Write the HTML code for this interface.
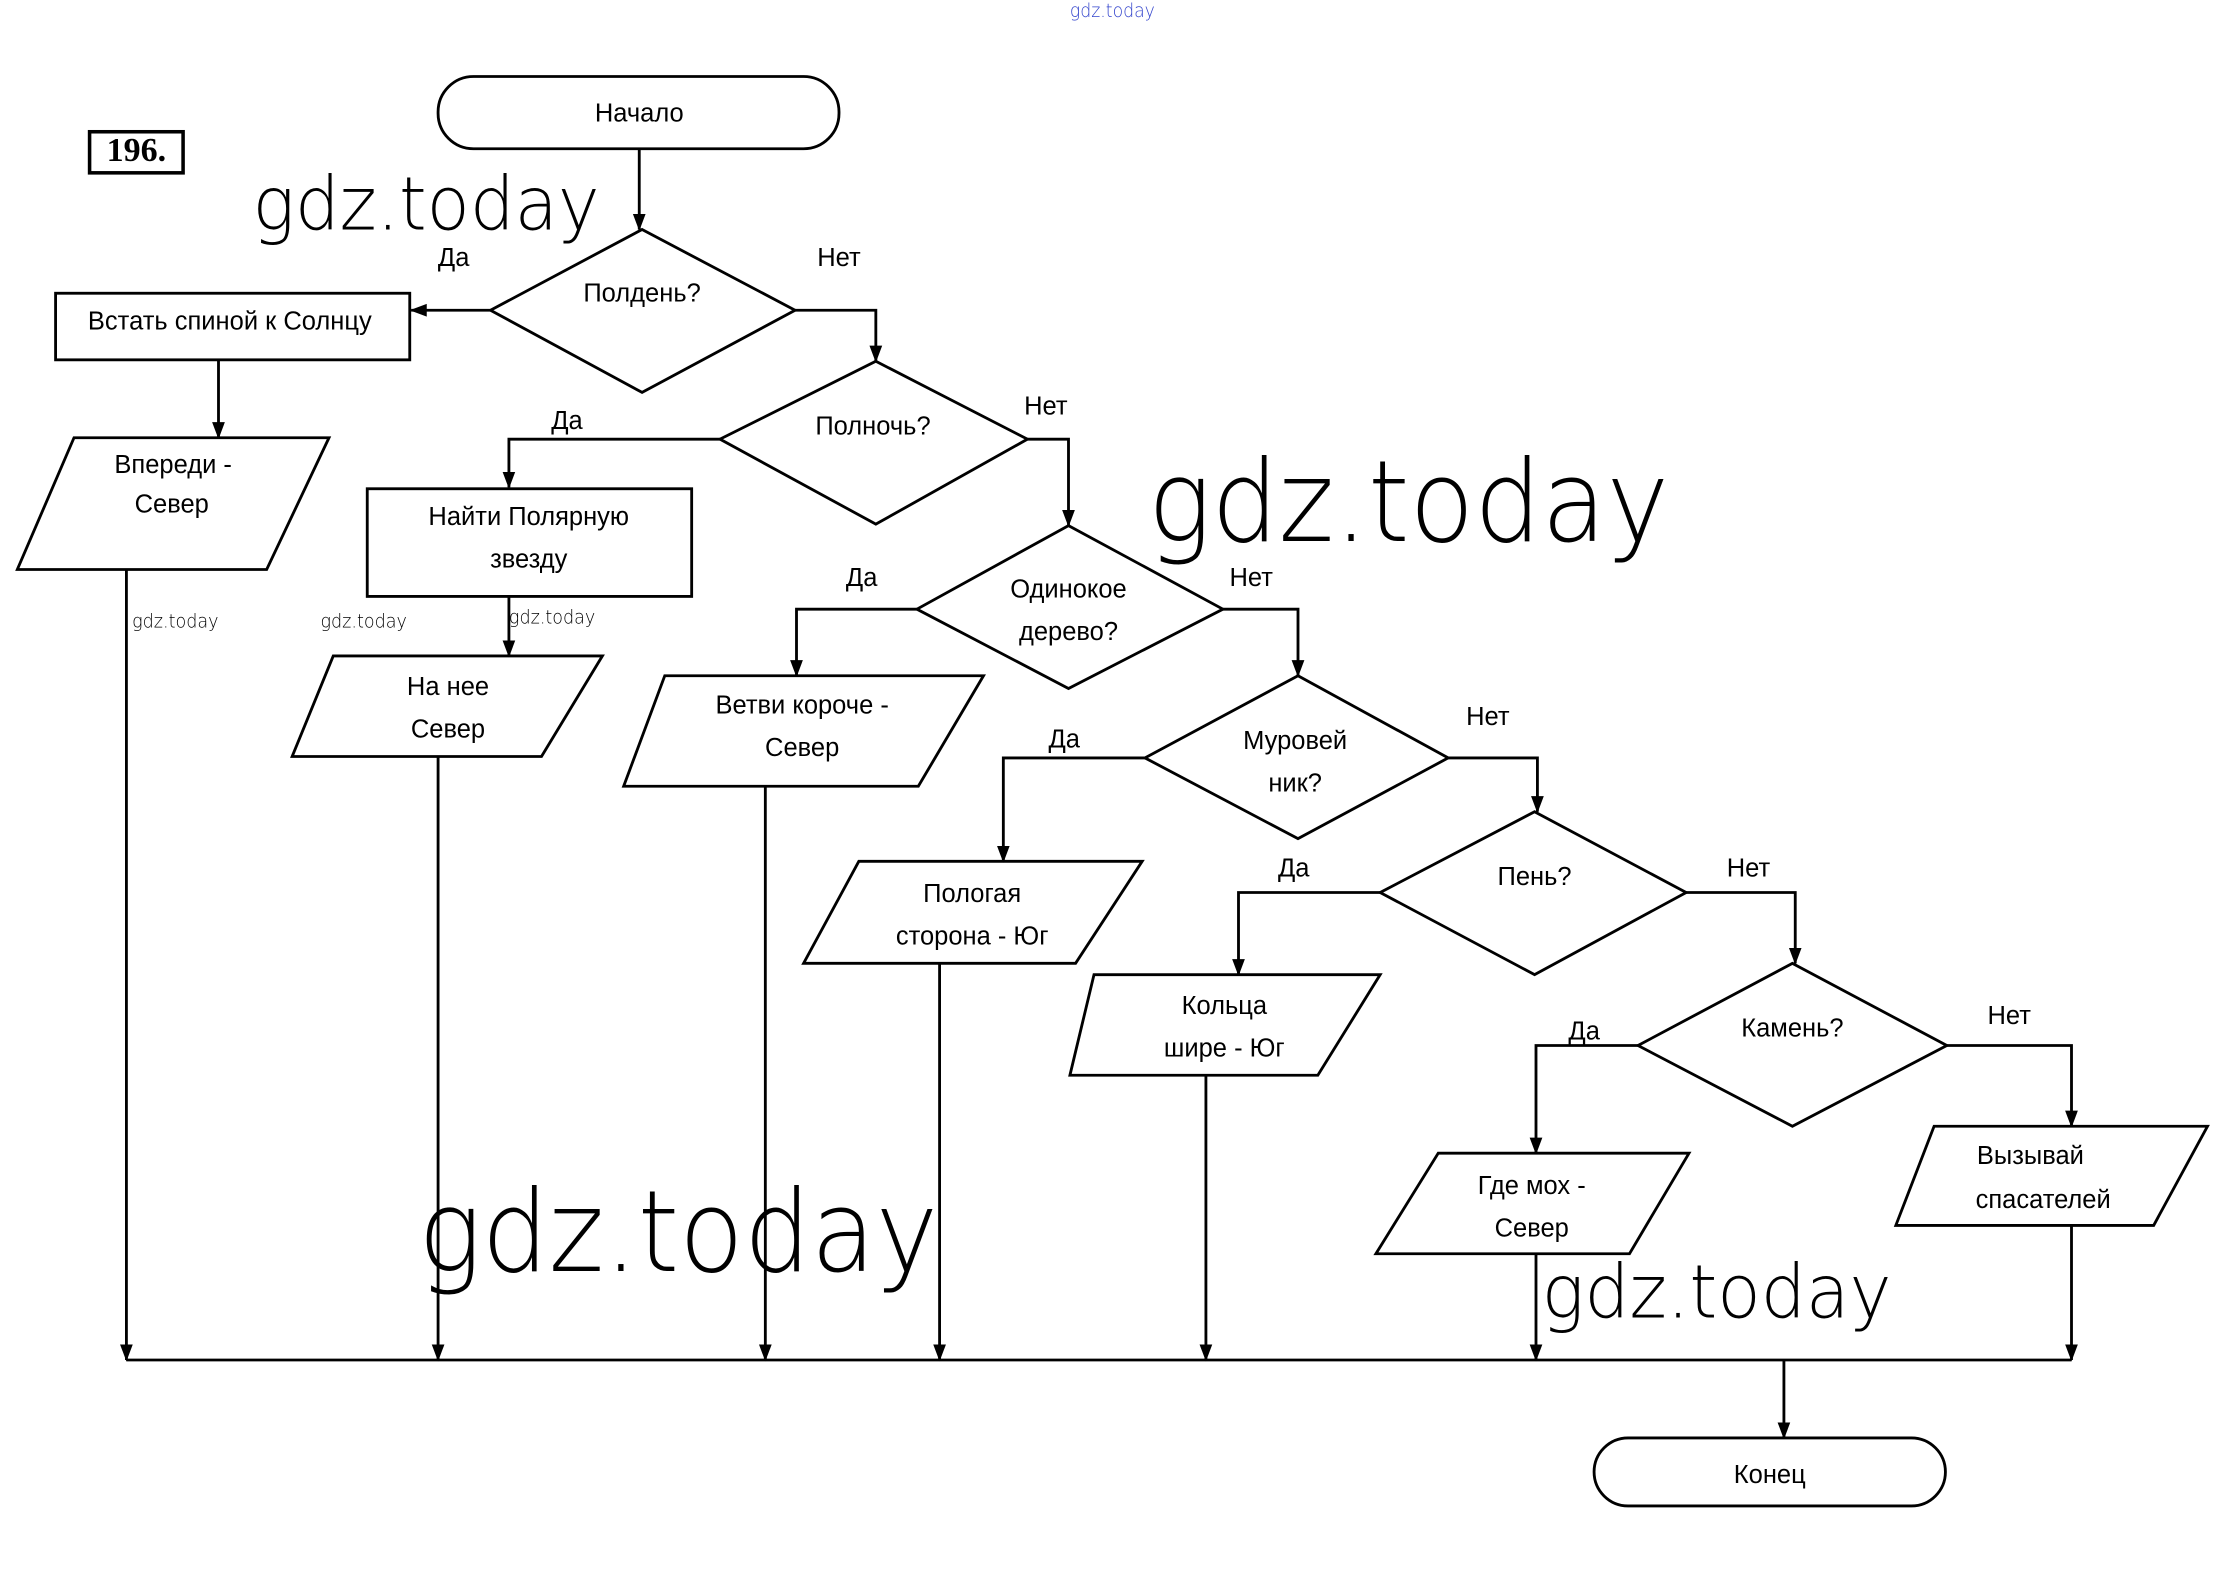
<!DOCTYPE html>
<html><head><meta charset="utf-8"><style>
html,body{margin:0;padding:0;background:#fff;}
svg{display:block}
.t{font-family:"Liberation Sans",sans-serif;font-size:18px;fill:#000;text-anchor:middle;dominant-baseline:middle}
.w{font-family:"DejaVu Sans","Liberation Sans",sans-serif;font-weight:200;fill:#000;}
</style></head><body>
<svg width="2222" height="1581" viewBox="0 0 1568 1116" xmlns="http://www.w3.org/2000/svg">
<defs><marker id="a" markerWidth="12" markerHeight="12" refX="11" refY="6" orient="auto" markerUnits="userSpaceOnUse"><path d="M0,1.5 L12,6 L0,10.5 z" fill="#000"/></marker></defs>
<g fill="none" stroke="#000" stroke-width="2">
<rect x="309" y="54" width="283" height="51" rx="25"/>
<rect x="63" y="93" width="66" height="29" stroke-width="2.5"/>
<rect x="1125" y="1015" width="248" height="48" rx="24"/>
<rect x="39" y="207" width="250" height="47"/>
<rect x="259" y="345" width="229" height="76"/>
<polygon points="453,162 561,219 453,277 346,219"/>
<polygon points="618,255 725,310 618,370 508,310"/>
<polygon points="754,371 863,430 754,486 647,430"/>
<polygon points="916,477 1022,535 916,592 808,535"/>
<polygon points="1083,573 1190,630 1083,688 974,630"/>
<polygon points="1265,680 1374,738 1265,795 1156,738"/>
<polygon points="52,309 232,309 188,402 12,402"/>
<polygon points="235,463 425,463 382,534 206,534"/>
<polygon points="469,477 694,477 648,555 440,555"/>
<polygon points="606,608 806,608 759,680 567,680"/>
<polygon points="772,688 974,688 930,759 755,759"/>
<polygon points="1015,814 1192,814 1150,885 971,885"/>
<polygon points="1365,795 1558,795 1520,865 1338,865"/>
<g marker-end="url(#a)">
<line x1="451" y1="105" x2="451" y2="162"/>
<line x1="346" y1="219" x2="290" y2="219"/>
<line x1="154" y1="254" x2="154" y2="309"/>
<polyline points="561,219 618,219 618,255"/>
<polyline points="508,310 359,310 359,344"/>
<line x1="359" y1="421" x2="359" y2="463"/>
<polyline points="725,310 754,310 754,371"/>
<polyline points="647,430 562,430 562,477"/>
<polyline points="863,430 916,430 916,477"/>
<polyline points="808,535 708,535 708,608"/>
<polyline points="1022,535 1085,535 1085,573"/>
<polyline points="974,630 874,630 874,688"/>
<polyline points="1190,630 1267,630 1267,680"/>
<polyline points="1156,738 1084,738 1084,814"/>
<polyline points="1374,738 1462,738 1462,795"/>
<line x1="89" y1="402" x2="89" y2="960"/>
<line x1="309" y1="534" x2="309" y2="960"/>
<line x1="540" y1="555" x2="540" y2="960"/>
<line x1="663" y1="680" x2="663" y2="960"/>
<line x1="851" y1="759" x2="851" y2="960"/>
<line x1="1084" y1="885" x2="1084" y2="960"/>
<line x1="1462" y1="865" x2="1462" y2="960"/>
<line x1="1259" y1="960" x2="1259" y2="1015"/>
</g>
<line x1="89" y1="960" x2="1462" y2="960"/>
</g>
<text x="96" y="108" style="font-family:'Liberation Serif',serif;font-weight:bold;font-size:24px;text-anchor:middle;dominant-baseline:middle">196.</text>
<text class="t" x="451" y="81">Начало</text>
<text class="t" x="453" y="208">Полдень?</text>
<text class="t" x="320" y="183">Да</text><text class="t" x="592" y="183">Нет</text>
<text class="t" x="162" y="228">Встать спиной к Солнцу</text>
<text class="t" x="122" y="329">Впереди -</text><text class="t" x="121" y="357">Север</text>
<text class="t" x="616" y="302">Полночь?</text>
<text class="t" x="400" y="298">Да</text><text class="t" x="738" y="288">Нет</text>
<text class="t" x="373" y="366">Найти Полярную</text><text class="t" x="373" y="396">звезду</text>
<text class="t" x="316" y="486">На нее</text><text class="t" x="316" y="516">Север</text>
<text class="t" x="754" y="417">Одинокое</text><text class="t" x="754" y="447">дерево?</text>
<text class="t" x="608" y="409">Да</text><text class="t" x="883" y="409">Нет</text>
<text class="t" x="566" y="499">Ветви короче -</text><text class="t" x="566" y="529">Север</text>
<text class="t" x="914" y="524">Муровей</text><text class="t" x="914" y="554">ник?</text>
<text class="t" x="751" y="523">Да</text><text class="t" x="1050" y="507">Нет</text>
<text class="t" x="686" y="632">Пологая</text><text class="t" x="686" y="662">сторона - Юг</text>
<text class="t" x="1083" y="620">Пень?</text>
<text class="t" x="913" y="614">Да</text><text class="t" x="1234" y="614">Нет</text>
<text class="t" x="864" y="711">Кольца</text><text class="t" x="864" y="741">шире - Юг</text>
<text class="t" x="1265" y="727">Камень?</text>
<text class="t" x="1118" y="729">Да</text><text class="t" x="1418" y="718">Нет</text>
<text class="t" x="1081" y="838">Где мох -</text><text class="t" x="1081" y="868">Север</text>
<text class="t" x="1433" y="817">Вызывай</text><text class="t" x="1442" y="848">спасателей</text>
<text class="t" x="1249" y="1042">Конец</text>
<text class="w" x="178" y="162" font-size="52" textLength="245" lengthAdjust="spacingAndGlyphs">gdz.today</text>
<text class="w" x="810" y="382" font-size="80" textLength="368" lengthAdjust="spacingAndGlyphs">gdz.today</text>
<text class="w" x="295" y="897" font-size="80" textLength="367" lengthAdjust="spacingAndGlyphs">gdz.today</text>
<text class="w" x="1088" y="930" font-size="52" textLength="247" lengthAdjust="spacingAndGlyphs">gdz.today</text>
<text class="w" x="93" y="443" font-size="13" textLength="61" lengthAdjust="spacingAndGlyphs">gdz.today</text>
<text class="w" x="226" y="443" font-size="13" textLength="61" lengthAdjust="spacingAndGlyphs">gdz.today</text>
<text class="w" x="359" y="440" font-size="13" textLength="61" lengthAdjust="spacingAndGlyphs">gdz.today</text>
<text class="w" x="755" y="12" font-size="13" textLength="60" lengthAdjust="spacingAndGlyphs" style="fill:#3344cc">gdz.today</text>
</svg>
</body></html>
